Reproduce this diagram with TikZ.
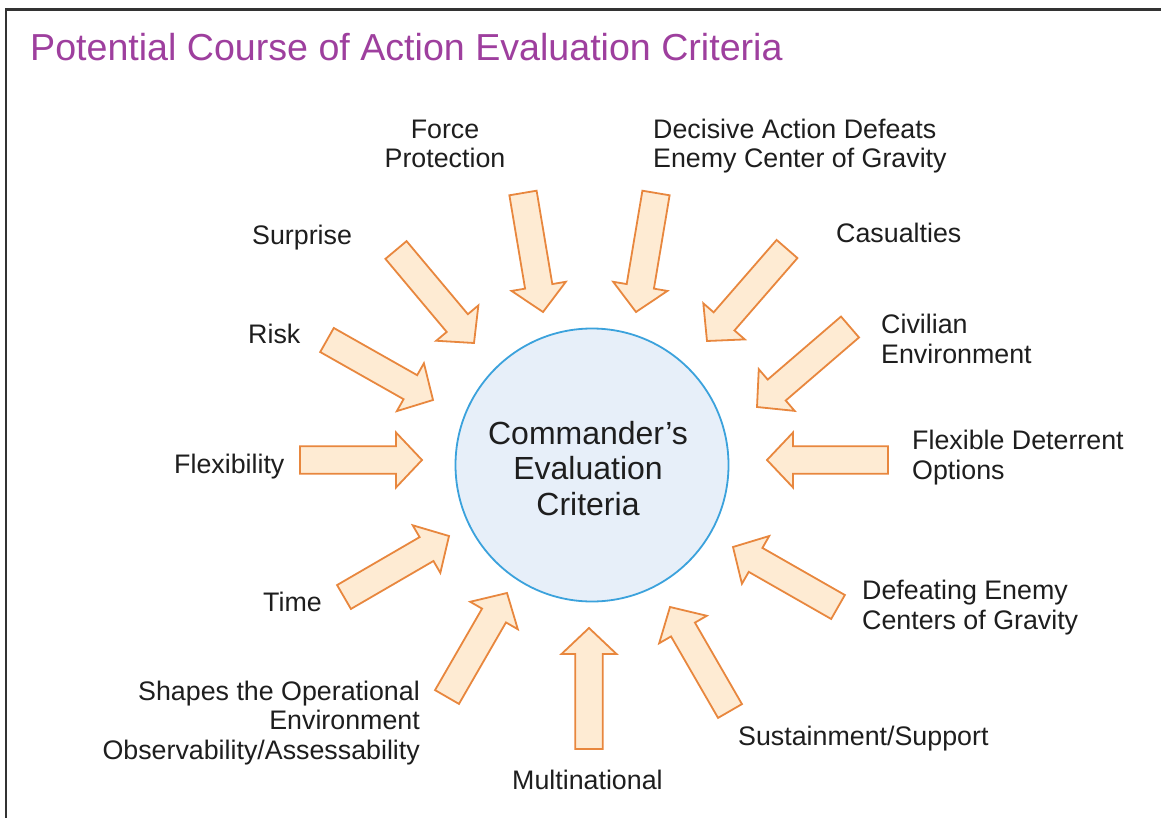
\documentclass[tikz,border=0pt]{standalone}
\usepackage{fontspec}
\setmainfont{Liberation Sans}
\usetikzlibrary{calc}
\definecolor{arrfill}{HTML}{FEEBD3}
\definecolor{arrline}{HTML}{E8873E}
\definecolor{cfill}{HTML}{E7EFF9}
\definecolor{cline}{HTML}{3BA2DC}
\definecolor{ttl}{HTML}{9E3F9E}
\definecolor{txt}{HTML}{1E1E1E}
\newcommand\blockarrow[2]{%
  \coordinate (#1hb) at ($(#2)!26pt!(#1)$);
  \draw[barrow] ($(#1)!13.8pt!90:(#2)$) -- ($(#1hb)!13.8pt!90:(#2)$) -- ($(#1hb)!27.5pt!90:(#2)$) -- (#2)
     -- ($(#1hb)!27.5pt!-90:(#2)$) -- ($(#1hb)!13.8pt!-90:(#2)$) -- ($(#1)!13.8pt!-90:(#2)$) -- cycle;
}
\tikzset{
  barrow/.style={draw=arrline, fill=arrfill, line width=1.8pt, line join=miter},
  lbl/.style={font=\fontsize{26.8}{29.5}\selectfont, text=txt, inner sep=0pt},
  hub/.style={circle, draw=cline, fill=cfill, line width=1.8pt, minimum size=273pt, inner sep=0pt},
  hubtext/.style={align=center, text=txt, font=\fontsize{32}{35.5}\selectfont, inner sep=0pt},
  frame/.style={draw=black!80, line width=2.6pt}
}
\begin{document}
\begin{tikzpicture}[x=1pt,y=-1pt]
\useasboundingbox (0,0) rectangle (1161,818);
\fill[white] (0,0) rectangle (1161,818);
\draw[frame] (6,822) -- (6,9.5) -- (1166,9.5);
\node[anchor=base west, inner sep=0pt, text=ttl, font=\fontsize{37.6}{40}\selectfont] (title) at (30,60.5) {Potential Course of Action Evaluation Criteria};

\node[hub] (c) at (592,465) {};
\node[hubtext, anchor=base] (ctext) at (588,515) {Commander’s\\Evaluation\\Criteria};

% arrow tails (t) and tips (h)
\coordinate (t1) at (523,193);  \coordinate (h1) at (543,312);
\coordinate (t2) at (656,193);  \coordinate (h2) at (636,312);
\coordinate (t3) at (787,249);  \coordinate (h3) at (707,341);
\coordinate (t4) at (850,327);  \coordinate (h4) at (757,407);
\coordinate (t5) at (888,460);  \coordinate (h5) at (767,460);
\coordinate (t6) at (838,607);  \coordinate (h6) at (733,547);
\coordinate (t7) at (730,711);  \coordinate (h7) at (670,607);
\coordinate (t8) at (589,749);  \coordinate (h8) at (589,628);
\coordinate (t9) at (447,697);  \coordinate (h9) at (507,593);
\coordinate (t10) at (344,597); \coordinate (h10) at (449,536);
\coordinate (t11) at (300,460); \coordinate (h11) at (422,460);
\coordinate (t12) at (327,340); \coordinate (h12) at (433,400);
\coordinate (t13) at (396,250); \coordinate (h13) at (474,343);
\blockarrow{t1}{h1}
\blockarrow{t2}{h2}
\blockarrow{t3}{h3}
\blockarrow{t4}{h4}
\blockarrow{t5}{h5}
\blockarrow{t6}{h6}
\blockarrow{t7}{h7}
\blockarrow{t8}{h8}
\blockarrow{t9}{h9}
\blockarrow{t10}{h10}
\blockarrow{t11}{h11}
\blockarrow{t12}{h12}
\blockarrow{t13}{h13}

\node[lbl, anchor=base, align=center] (lforce) at (445,168) {Force\\Protection};
\node[lbl, anchor=base west, align=left] (ldecisive) at (653,168) {Decisive Action Defeats\\Enemy Center of Gravity};
\node[lbl, anchor=base west] (lcas) at (836,243) {Casualties};
\node[lbl, anchor=base west, align=left] (lciv) at (881,363) {Civilian\\Environment};
\node[lbl, anchor=base west, align=left] (lfdo) at (912,479) {Flexible Deterrent\\Options};
\node[lbl, anchor=base west, align=left] (ldefeat) at (862,629) {Defeating Enemy\\Centers of Gravity};
\node[lbl, anchor=base west] (lsust) at (738,745) {Sustainment/Support};
\node[lbl, anchor=base west] (lmulti) at (512,789) {Multinational};
\node[lbl, anchor=base east, align=right] (lshapes) at (420,759) {Shapes the Operational\\Environment\\Observability/Assessability};
\node[lbl, anchor=base west] (ltime) at (263,611) {Time};
\node[lbl, anchor=base west] (lflex) at (174,473) {Flexibility};
\node[lbl, anchor=base west] (lrisk) at (248,343) {Risk};
\node[lbl, anchor=base west] (lsurprise) at (252,245) {Surprise};
\end{tikzpicture}
\end{document}
